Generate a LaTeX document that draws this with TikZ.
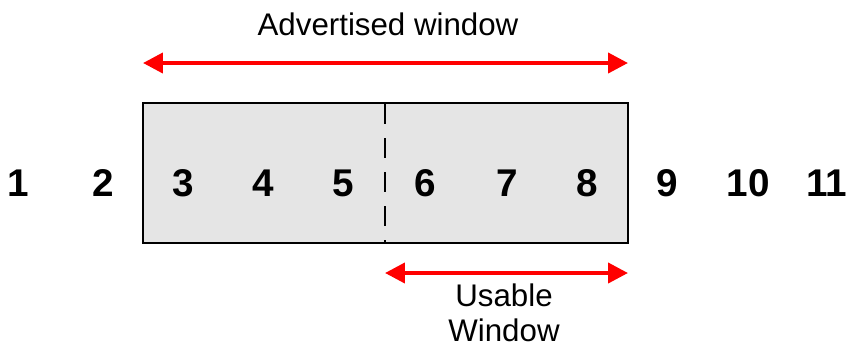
\documentclass[tikz,border=0pt]{standalone}
\usepackage{fontspec}
\setmainfont{Liberation Sans}
\usetikzlibrary{arrows.meta}
\begin{document}
\begin{tikzpicture}[x=0.02cm,y=-0.02cm,
  num/.style={font=\fontsize{22}{26}\selectfont\bfseries,anchor=base,inner sep=0pt},
  lbl/.style={font=\fontsize{17.8}{19.8}\selectfont,anchor=base,inner sep=0pt,align=center},
  wnd/.style={draw=red,line width=2.3pt,{Triangle[length=0.4cm,width=0.4cm]}-{Triangle[length=0.4cm,width=0.4cm]}}]
\useasboundingbox (0,0) rectangle (849,343);
\pgfmathsetmacro{\l}{143}
\pgfmathsetmacro{\m}{385}
\pgfmathsetmacro{\r}{628}
% window box
\draw[line width=1.1pt,fill=black!10] (\l,103) rectangle (\r,243);
\draw[line width=1.1pt,dash pattern=on 11.4pt off 8pt] (\m,104) -- (\m,243);
% sequence numbers
\foreach \n/\x in {1/18,2/103,3/183,4/263,5/343,6/425,7/507,8/587,9/667,10/748,11/827}
  \node[num] (n\n) at (\x,196) {\n};
% window arrows
\coordinate (adv-l) at (\l,63);
\coordinate (adv-r) at (\r,63);
\coordinate (use-l) at (\m,273);
\coordinate (use-r) at (\r,273);
\draw[wnd] (adv-l)--(adv-r);
\draw[wnd] (use-l)--(use-r);
\node[lbl] (adv) at (388,35) {Advertised window};
\node[lbl] (use) at (504,341) {Usable\\Window};
\end{tikzpicture}
\end{document}
